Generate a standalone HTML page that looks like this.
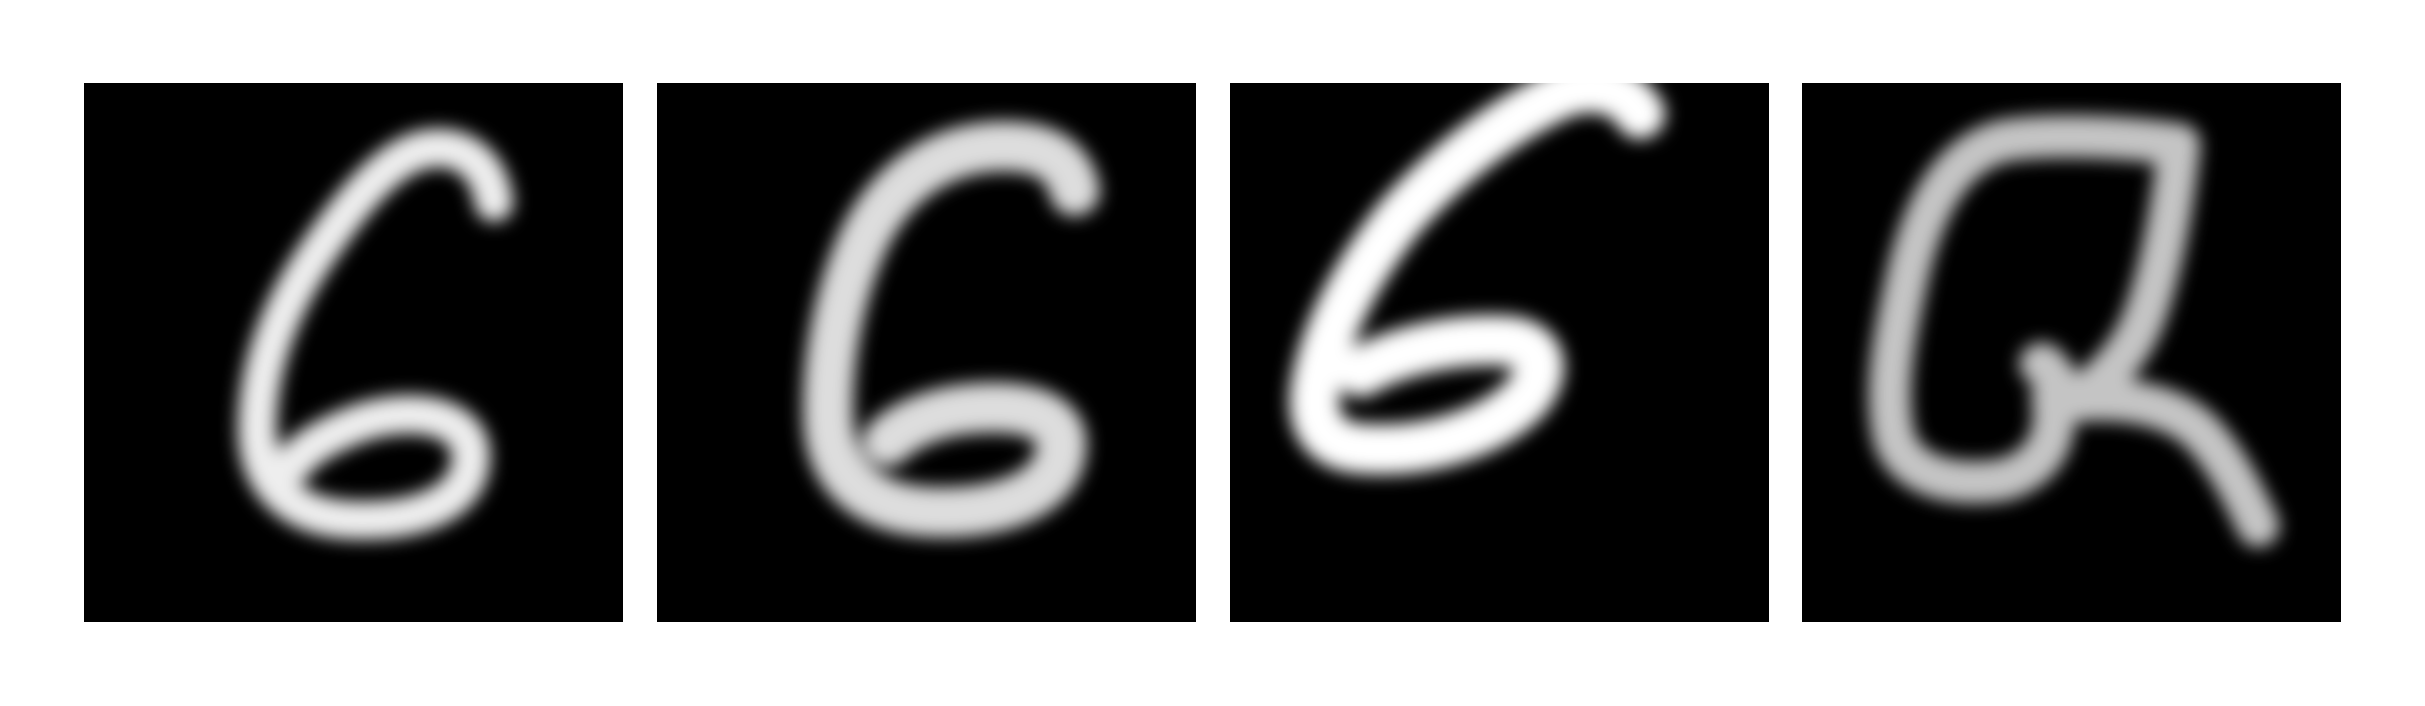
<!DOCTYPE html>
<html><head><meta charset="utf-8"><style>
html,body{margin:0;padding:0;background:#fff;}
svg{display:block;}
</style></head><body>
<svg width="2425" height="706" viewBox="0 0 2425 706">
<defs>
<filter id="b" x="-20%" y="-20%" width="140%" height="140%"><feGaussianBlur stdDeviation="0.45"/></filter>
</defs>
<g transform="translate(84,83) scale(19.25)">
<rect width="28" height="28" fill="#000"/>
<path filter="url(#b)" d="M21.3 6.2 C21 4 19.5 3.2 18 3.4 C16 3.6 14 6 12 9 C10 12 9 15 9 18 C9 21 11 22.6 14 22.7 C17 22.8 20 22 20.1 19.5 C20.2 17.2 17 16.8 14.5 17.6 C12.5 18.3 11.2 19.2 10.9 19.8" fill="none" stroke="#eee" stroke-width="2.0" stroke-linecap="round" stroke-linejoin="round"/>
</g>
<g transform="translate(657,83) scale(19.25)">
<rect width="28" height="28" fill="#000"/>
<path filter="url(#b)" d="M21.7 5.6 C21.3 3.6 19.5 3.2 17.5 3.3 C14.5 3.5 12.2 5.2 10.8 8 C9.4 11 8.8 14.5 8.9 17.5 C9 20.5 11 22.3 14.8 22.3 C18 22.3 20.8 21.3 21 19 C21.2 17 18.5 16.6 15.6 17 C13.8 17.3 12.6 18 12 18.6" fill="none" stroke="#ddd" stroke-width="2.6" stroke-linecap="round" stroke-linejoin="round"/>
</g>
<g transform="translate(1230,83) scale(19.25)">
<rect width="28" height="28" fill="#000"/>
<path filter="url(#b)" d="M21.3 1.6 C20.5 0.2 18.8 0 17.3 0.5 C14 2 11 4.5 8.8 7 C6.6 9.8 5 12.8 4.5 15.5 C4.1 17.6 4.8 18.9 7 19 C10 19.2 13.5 18.3 15.4 16.3 C16.5 14.9 16.2 13.6 14.5 13.4 C11.5 13.2 8.5 14 6.8 15" fill="none" stroke="#fff" stroke-width="2.6" stroke-linecap="round" stroke-linejoin="round"/>
</g>
<g transform="translate(1802,83) scale(19.25)">
<rect width="28" height="28" fill="#000"/>
<path filter="url(#b)" d="M13.5 16 C13 15 12.6 14.5 12.4 14.6 M19.6 3.2 C17 2.8 13 2.6 10.5 3 C8 3.6 6.5 6 5.6 9.5 C4.8 13 4.2 16 4.8 18.5 C5.5 20.5 8 21 10.5 20.6 C12.5 20 13.4 18.5 13 16.3 M19.6 3.2 C19.3 6 18.8 9 18 11.5 C17.3 13.8 16 15.2 14.3 16.5 C16.5 16.3 19 16.6 20.6 18 C22 19.4 23 21.5 23.7 23" fill="none" stroke="#c4c4c4" stroke-width="2.2" stroke-linecap="round" stroke-linejoin="round"/>
</g>
</svg>
</body></html>
